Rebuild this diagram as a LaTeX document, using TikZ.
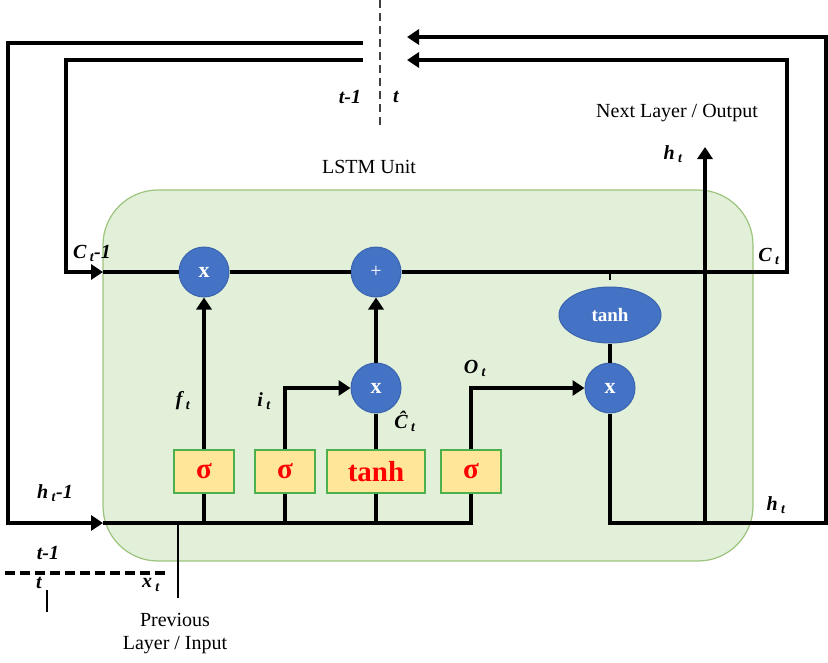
\documentclass[tikz,border=0pt]{standalone}
\usepackage{fontspec}
\setmainfont{Liberation Serif}
\usetikzlibrary{arrows.meta,shapes.geometric}
\definecolor{cellfill}{HTML}{E2F0D9}
\definecolor{celldraw}{HTML}{9CC47C}
\definecolor{opfill}{HTML}{4472C4}
\definecolor{opdraw}{HTML}{3B64AD}
\definecolor{gatefill}{HTML}{FFE699}
\definecolor{gatedraw}{HTML}{4CB04C}
\definecolor{gatetext}{HTML}{FF0000}
\tikzset{
 wire/.style={line width=3.8pt},
 thinwire/.style={line width=1.6pt},
 arr/.style={-{Triangle[length=12pt,width=15pt]}},
 opnode/.style={circle, fill=opfill, draw=opdraw, line width=1pt, minimum size=50pt, inner sep=0pt, text=white, font=\fontsize{22}{24}\selectfont\bfseries},
 gatebox/.style={rectangle, fill=gatefill, draw=gatedraw, line width=1.2pt, minimum height=43pt, inner sep=0pt, text=gatetext, font=\fontsize{29}{30}\selectfont\bfseries},
 lab/.style={font=\fontsize{20}{24}\selectfont\bfseries\itshape, inner sep=0pt},
 plainlab/.style={font=\fontsize{20}{24}\selectfont, inner sep=0pt},
}
\begin{document}
\begin{tikzpicture}[x=1pt,y=-1pt]
\useasboundingbox (0,0) rectangle (828,662);
\fill[white] (0,0) rectangle (828,662);
% cell
\node[draw=celldraw, fill=cellfill, line width=1.2pt, rounded corners=55pt, minimum width=650pt, minimum height=371pt, inner sep=0pt] (cell) at (428,375.5) {};
% operators
\node[opnode] (mf) at (204,272) {x};
\node[opnode] (mp) at (376,272) {\fontsize{20}{22}\selectfont\mdseries +};
\node[opnode] (mi) at (376,388) {x};
\node[opnode] (mo) at (610,388) {x};
\node[ellipse, fill=opfill, draw=opdraw, line width=1pt, minimum width=102pt, minimum height=56pt, inner sep=0pt, text=white, font=\fontsize{19}{22}\selectfont\bfseries] (th) at (610,315) {tanh};
% gates
\node[gatebox, minimum width=60pt] (bf) at (204,471.5) {σ};
\node[gatebox, minimum width=60pt] (bi) at (285,471.5) {σ};
\node[gatebox, minimum width=98pt] (bc) at (376,471.5) {tanh};
\node[gatebox, minimum width=60pt] (bo) at (471,471.5) {σ};
% coordinates
\coordinate (cIn) at (103,272);
\coordinate (hIn) at (103,523);
\coordinate (hLoopStart) at (363,43);
\coordinate (cLoopStart) at (363,60);
\coordinate (hCorner) at (8,523);
\coordinate (cCorner) at (66,272);
\coordinate (hTop) at (407,37);
\coordinate (cTop) at (407,60);
\coordinate (cRight) at (787,272);
\coordinate (hRight) at (826,523);
\coordinate (hOutBase) at (705,523);
\coordinate (hOut) at (705,147);
\coordinate (xIn) at (178,598);
\coordinate (dashL) at (5,573);
\coordinate (dashR) at (168,573);
\coordinate (tickTop) at (47,590);
\coordinate (tickBot) at (47,612);
\coordinate (sepTop) at (380,0);
\coordinate (sepBot) at (380,128);
% recurrent loops
\draw[wire,arr] (hLoopStart) -| (hCorner) -- (hIn);
\draw[wire,arr] (cLoopStart) -| (cCorner) -- (cIn);
% cell state line
\draw[wire] (cIn) -- (mf.west);
\draw[wire] (mf.east) -- (mp.west);
\draw[wire,arr] (mp.east) -- (cRight) |- (cTop);
% hidden output
\draw[wire,arr] (mo.south) |- (hRight) |- (hTop);
\draw[wire,arr] (hOutBase) -- (hOut);
% input bus
\draw[wire] (hIn) -| (bo.south);
\draw[wire] (bf.south) -- (bf.south |- hIn);
\draw[wire] (bi.south) -- (bi.south |- hIn);
\draw[wire] (bc.south) -- (bc.south |- hIn);
\draw[thinwire] (xIn) -- (xIn |- hIn);
% gate outputs
\draw[wire,arr] (bf.north) -- (mf.south);
\draw[wire,arr] (bi.north) |- (mi.west);
\draw[wire] (bc.north) -- (mi.south);
\draw[wire,arr] (mi.north) -- (mp.south);
\draw[wire,arr] (bo.north) |- (mo.west);
\draw[wire] (th.south) -- (mo.north);
\draw[line width=2.5pt, shorten >=7pt] (th.north |- cIn) -- (th.north);
% time separators
\draw[line width=3.5pt, dash pattern=on 10pt off 5pt] (dashL) -- (dashR);
\draw[thinwire] (tickTop) -- (tickBot);
\draw[line width=1.5pt, black!75, dash pattern=on 8pt off 5pt] (sepTop) -- (sepBot);
% labels
\node[lab] (lt1) at (350,97) {t-1};
\node[lab] (lt) at (396,97) {t};
\node[plainlab] (unit) at (369,167) {LSTM Unit};
\node[plainlab] (next) at (677,113) {Next Layer / Output};
\node[lab] (hOutL) at (673,154) {h\,\textsubscript{t}};
\node[lab] (cPrevL) at (92,253) {C\,\textsubscript{t}-1};
\node[lab] (cNowL) at (769,256) {C\,\textsubscript{t}};
\node[lab] (fL) at (183,401) {f\,\textsubscript{t}};
\node[lab] (iL) at (264,401) {i\,\textsubscript{t}};
\node[lab] (chL) at (405,421) {Ĉ\,\textsubscript{t}};
\node[lab] (oL) at (475,368) {O\,\textsubscript{t}};
\node[lab] (hPrevL) at (55,493) {h\,\textsubscript{t}-1};
\node[lab] (bt1) at (48,553) {t-1};
\node[lab] (bt) at (39,583) {t};
\node[lab] (xL) at (151,585) {x\,\textsubscript{t}};
\node[lab] (hNowL) at (776,505) {h\,\textsubscript{t}};
\node[plainlab] (prev1) at (175,620) {Previous};
\node[plainlab] (prev2) at (175,645) {Layer / Input};
\end{tikzpicture}
\end{document}
